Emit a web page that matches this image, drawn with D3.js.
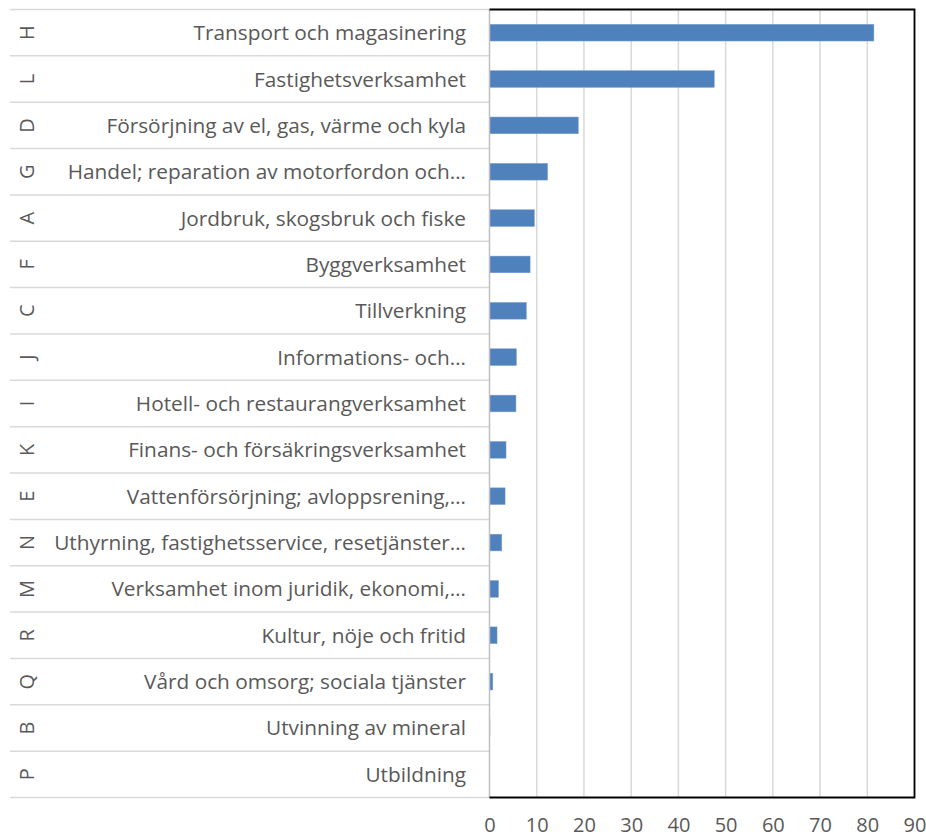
<!DOCTYPE html>
<html lang="en">
<head>
  <meta charset="utf-8">
  <script src="https://d3js.org/d3.v7.min.js"></script>
  <style>
    body { margin: 0; background: #fff; }
    text { font-family: "Open Sans", "Noto Sans", sans-serif; fill: #595959; }
  </style>
</head>
<body>
  <script type="text/javascript">
    // category codes, labels and values (top to bottom)
    var codes = ["H", "L", "D", "G", "A", "F", "C", "J", "I", "K", "E", "N", "M", "R", "Q", "B", "P"];
    var labels = [
      "Transport och magasinering",
      "Fastighetsverksamhet",
      "Försörjning av el, gas, värme och kyla",
      "Handel; reparation av motorfordon och…",
      "Jordbruk, skogsbruk och fiske",
      "Byggverksamhet",
      "Tillverkning",
      "Informations- och…",
      "Hotell- och restaurangverksamhet",
      "Finans- och försäkringsverksamhet",
      "Vattenförsörjning; avloppsrening,…",
      "Uthyrning, fastighetsservice, resetjänster…",
      "Verksamhet inom juridik, ekonomi,…",
      "Kultur, nöje och fritid",
      "Vård och omsorg; sociala tjänster",
      "Utvinning av mineral",
      "Utbildning"
    ];
    var values = [81.4, 47.6, 18.8, 12.3, 9.5, 8.6, 7.8, 5.7, 5.6, 3.5, 3.3, 2.6, 1.9, 1.6, 0.7, 0.1, 0];
    var ticks = [0, 10, 20, 30, 40, 50, 60, 70, 80, 90];

    // dimensions
    var dim = {
      "width": 926,
      "height": 838,
      "left": 489.5,
      "right": 914.5,
      "top": 9.5,
      "bottom": 797.5,
      "rowStart": 10,
      "codeX": 27,
      "labelX": 466
    };

    var svg = d3.select("body")
      .append("svg")
      .attr("width", dim.width)
      .attr("height", dim.height);

    var xScale = d3.scaleLinear()
      .domain([0, 90])
      .range([dim.left, dim.right]);

    var yScale = d3.scaleBand()
      .domain(d3.range(values.length))
      .range([dim.top, dim.bottom])
      .paddingInner(0.64)
      .paddingOuter(0.32);

    var rows = d3.scaleBand()
      .domain(d3.range(values.length))
      .range([dim.top, dim.bottom]);

    // vertical gridlines
    svg.append("g")
      .selectAll("line")
      .data(ticks.slice(1))
      .enter()
      .append("line")
      .attr("x1", d => xScale(d))
      .attr("x2", d => xScale(d))
      .attr("y1", dim.top)
      .attr("y2", dim.bottom)
      .attr("stroke", "#d9d9d9")
      .attr("stroke-width", 1.5);

    // row separators of the category axis
    var seps = d3.range(values.length + 1).map(i => dim.top + i * rows.step());
    svg.append("g")
      .selectAll("line")
      .data(seps)
      .enter()
      .append("line")
      .attr("x1", dim.rowStart)
      .attr("x2", dim.left)
      .attr("y1", d => d)
      .attr("y2", d => d)
      .attr("stroke", "#d9d9d9")
      .attr("stroke-width", 1.5);

    // bars
    svg.append("g")
      .selectAll("rect")
      .data(values)
      .enter()
      .append("rect")
      .attr("x", xScale(0))
      .attr("y", (d, i) => yScale(i))
      .attr("width", d => xScale(d) - xScale(0))
      .attr("height", yScale.bandwidth())
      .attr("fill", "#4f81bd")
      .attr("stroke", "#7a9fd0")
      .attr("stroke-width", 0.5);

    // plot border: left is category axis (gray), rest black
    svg.append("line")
      .attr("x1", dim.left).attr("x2", dim.left)
      .attr("y1", dim.top).attr("y2", dim.bottom)
      .attr("stroke", "#bfbfbf").attr("stroke-width", 1.5);
    svg.append("path")
      .attr("d", "M" + dim.left + "," + dim.top + "H" + dim.right + "V" + dim.bottom + "H" + dim.left)
      .attr("fill", "none")
      .attr("stroke", "#000")
      .attr("stroke-width", 1.8);

    // category labels
    svg.append("g")
      .selectAll("text")
      .data(labels)
      .enter()
      .append("text")
      .attr("x", dim.labelX)
      .attr("y", (d, i) => rows(i) + rows.bandwidth() / 2)
      .attr("dy", "0.36em")
      .attr("text-anchor", "end")
      .style("font-size", "20.8px")
      .text(d => d);

    // codes, rotated
    svg.append("g")
      .selectAll("text")
      .data(codes)
      .enter()
      .append("text")
      .attr("transform", (d, i) => "translate(" + dim.codeX + "," + (rows(i) + rows.bandwidth() / 2) + ") rotate(-90)")
      .attr("dy", "0.36em")
      .attr("text-anchor", "middle")
      .style("font-size", "20px")
      .text(d => d);

    // x axis
    var xAxis = d3.axisBottom(xScale)
      .tickValues(ticks)
      .tickSize(0)
      .tickPadding(0);
    var gx = svg.append("g")
      .attr("transform", "translate(0," + dim.bottom + ")")
      .call(xAxis);
    gx.select(".domain").remove();
    gx.selectAll("text")
      .attr("y", 34.5)
      .attr("dy", 0)
      .style("font-size", "20px")
      .style("font-family", "'Open Sans', sans-serif")
      .attr("fill", "#595959");
  </script>
</body>
</html>
